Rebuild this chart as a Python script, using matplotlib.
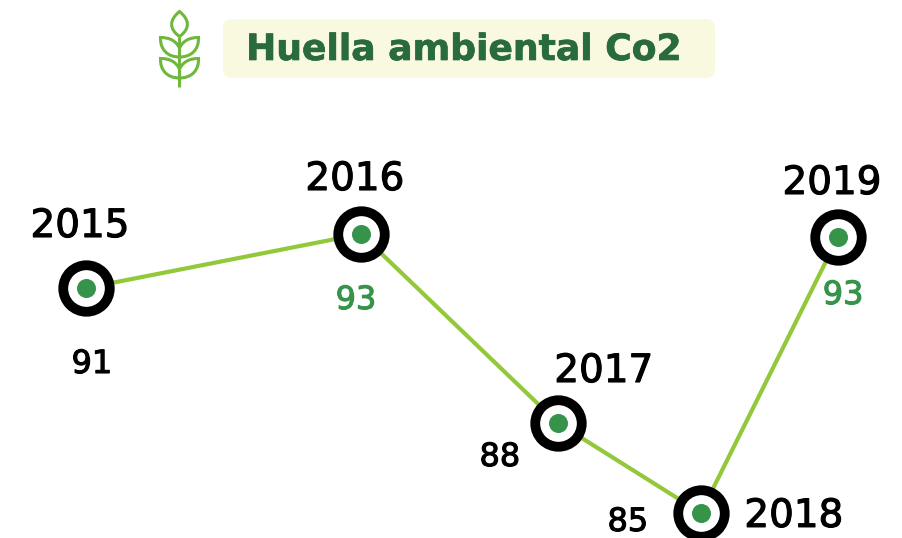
import matplotlib
matplotlib.use("Agg")
import matplotlib.pyplot as plt
import matplotlib.patheffects as pe
from matplotlib.patches import FancyBboxPatch, PathPatch
from matplotlib.path import Path

years = ["2015", "2016", "2017", "2018", "2019"]
x_positions = [0.0, 1.0, 1.716, 2.236, 2.735]
y_heights = [91.0, 93.0, 86.0, 82.67, 92.89]
value_labels = ["91", "93", "88", "85", "93"]
title = "Huella ambiental Co2"

LINE = "#93c83a"
DOT = "#35934a"
DARK = "#296b3c"
BOX = "#f9f9e0"
LEAF = "#6eb83c"
FONT = "DejaVu Sans"
W, H = 903, 538
PT = 0.72

year_off = [(-6, 51), (-6, 44), (46, 41), (93, -14), (-6, 43)]
val_off = [(6, -85), (-5, -75), (-58, -43), (-73, -18), (5, -67)]
val_col = ["black", DOT, "black", "black", DOT]

fig = plt.figure(figsize=(W / 100, H / 100), dpi=100, facecolor="white")
ax = fig.add_axes([0, 0, 1, 1])
ax.axis("off")
sx = 275.0
sy = 27.0
ax.set_xlim(-86 / sx, (W - 86) / sx)
ax.set_ylim(91 - (H - 288) / sy, 91 + 288 / sy)

ax.plot(x_positions, y_heights, color=LINE, lw=3.0, zorder=2, solid_capstyle="round")
ax.plot(x_positions, y_heights, ls="none", marker="o", ms=46.5 * PT, mew=9.8 * PT,
        mec="black", mfc="white", zorder=3)
ax.plot(x_positions, y_heights, ls="none", marker="o", ms=19 * PT, mew=0,
        mfc=DOT, zorder=4)


def heavier(color, width=0.8):
    return [pe.withStroke(linewidth=width, foreground=color)]


for xp, yp, y, v, yo, vo, c in zip(x_positions, y_heights, years, value_labels,
                                   year_off, val_off, val_col):
    ax.annotate(y, (xp, yp), xytext=(yo[0] * PT, yo[1] * PT), textcoords="offset points",
                ha="center", va="baseline", fontsize=28, fontfamily=FONT,
                color="black", zorder=5, annotation_clip=False,
                path_effects=heavier("black"))
    ax.annotate(v, (xp, yp), xytext=(vo[0] * PT, vo[1] * PT), textcoords="offset points",
                ha="center", va="baseline", fontsize=23, fontfamily=FONT,
                color=c, zorder=5, annotation_clip=False,
                path_effects=heavier(c))

# pixel-space overlay for the header
ov = fig.add_axes([0, 0, 1, 1])
ov.axis("off")
ov.patch.set_alpha(0)
ov.set_xlim(0, W)
ov.set_ylim(H, 0)
ov.add_patch(FancyBboxPatch((231, 27), 476, 43, boxstyle="round,pad=8,rounding_size=9",
                            fc=BOX, ec="none"))
ov.text(464, 60, title, ha="center", va="baseline", fontsize=26, fontfamily=FONT,
        fontweight="bold", color=DARK, path_effects=heavier(DARK, 0.5))

C = Path.CURVE4
M = Path.MOVETO
L = Path.LINETO
LEAF_CODES = [M, C, C, C, C, C, C, Path.CLOSEPOLY]
leaves = [
    ([(179.5, 11.5), (169, 20), (169, 29), (179.5, 36.5), (190, 29), (190, 20), (179.5, 11.5), (179.5, 11.5)], LEAF_CODES),
    ([(179.5, 48), (176, 41), (170, 37.5), (160.5, 37.5), (160, 49), (167, 57), (179.5, 57), (179.5, 57)], LEAF_CODES),
    ([(179.5, 48), (183, 41), (189, 37.5), (198.5, 37.5), (199, 49), (192, 57), (179.5, 57), (179.5, 57)], LEAF_CODES),
    ([(179.5, 69), (176, 62), (170, 58.5), (160.5, 58.5), (160, 70), (167, 78), (179.5, 78), (179.5, 78)], LEAF_CODES),
    ([(179.5, 69), (183, 62), (189, 58.5), (198.5, 58.5), (199, 70), (192, 78), (179.5, 78), (179.5, 78)], LEAF_CODES),
    ([(179.5, 36.5), (179.5, 87)], [M, L]),
]
for verts, codes in leaves:
    ov.add_patch(PathPatch(Path(verts, codes), fc="none", ec=LEAF, lw=2.2))

fig.savefig("out.png", dpi=100, facecolor="white")
